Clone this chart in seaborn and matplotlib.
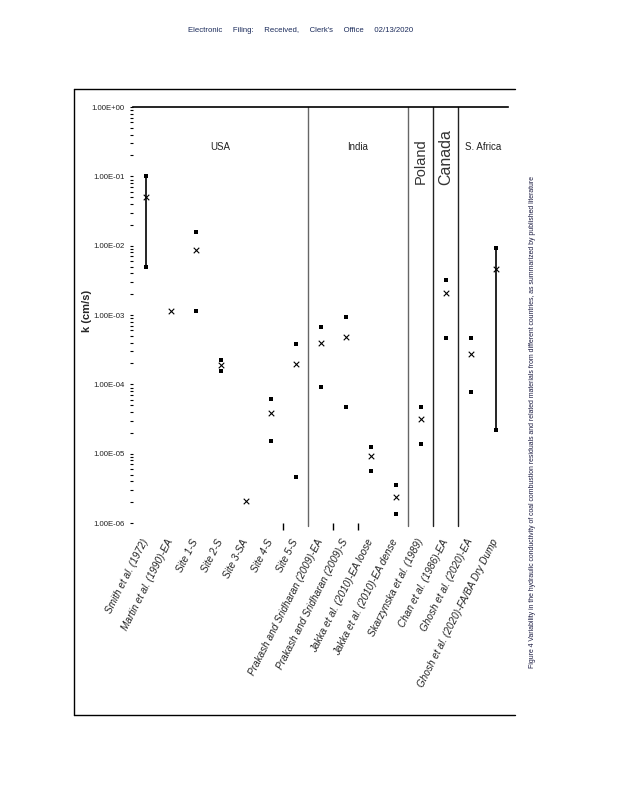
import numpy as np
import pandas as pd
import matplotlib
matplotlib.use("Agg")
import matplotlib.pyplot as plt
import seaborn as sns
from matplotlib.lines import Line2D
from matplotlib.ticker import LogLocator, FixedLocator, NullFormatter

# ---------------- data ----------------
categories = [
    "Smith et al. (1972)",
    "Martin et al. (1990)-EA",
    "Site 1-S",
    "Site 2-S",
    "Site 3-SA",
    "Site 4-S",
    "Site 5-S",
    "Prakash and Sridharan (2009)-EA",
    "Prakash and Sridharan (2009)-S",
    "Jakka et al. (2010)-EA loose",
    "Jakka et al. (2010)-EA dense",
    "Skarzynska et al. (1989)",
    "Chan et al. (1986)-EA",
    "Ghosh et al. (2020)-EA",
    "Ghosh et al. (2020)-FA/BA Dry Dump",
]
nan = np.nan
mean_k = [5.0e-2, 1.15e-3, 8.7e-3, 1.9e-4, 2.1e-6, 3.9e-5, 1.96e-4,
          3.95e-4, 4.8e-4, 9.3e-6, 2.35e-6, 3.2e-5, 2.1e-3, 2.7e-4, 4.6e-3]
max_k = [nan, nan, 1.6e-2, 2.25e-4, nan, 6.2e-5, 3.8e-4,
         6.7e-4, 9.4e-4, 1.26e-5, 3.5e-6, 4.7e-5, 3.2e-3, 4.7e-4, nan]
min_k = [nan, nan, 1.15e-3, 1.55e-4, nan, 1.5e-5, 4.6e-6,
         9.2e-5, 4.7e-5, 5.6e-6, 1.35e-6, 1.4e-5, 4.7e-4, 7.8e-5, nan]
range_hi = [1.0e-1, nan, nan, nan, nan, nan, nan,
            nan, nan, nan, nan, nan, nan, nan, 9.3e-3]
range_lo = [4.9e-3, nan, nan, nan, nan, nan, nan,
            nan, nan, nan, nan, nan, nan, nan, 2.2e-5]

regions = ["USA", "India", "Poland", "Canada", "S. Africa"]
region_sizes = [7, 4, 1, 1, 2]
region_vertical = [False, False, True, True, False]
bottom_tick_boundaries = [6, 8, 9]

ytick_values = [1e0, 1e-1, 1e-2, 1e-3, 1e-4, 1e-5, 1e-6]
ytick_labels = ["1.00E+00", "1.00E-01", "1.00E-02", "1.00E-03",
                "1.00E-04", "1.00E-05", "1.00E-06"]

header_text = "Electronic     Filing:     Received,     Clerk's     Office     02/13/2020"
caption_text = ("Figure 4 Variability in the hydraulic conductivity of coal combustion residuals "
                "and related materials from different countries, as summarized by published literature")

# ---------------- frame ----------------
sns.set_theme(style="white")
plt.rcParams["font.family"] = ["Liberation Sans", "DejaVu Sans"]

W, H = 619, 800
fig = plt.figure(figsize=(W / 100, H / 100), dpi=100)
fig.patch.set_facecolor("white")

def fx(px):
    return px / W

def fy(py):
    return 1 - py / H

ax_l, ax_r, ax_t, ax_b = 133, 508, 107, 523
ax = fig.add_axes([fx(ax_l), fy(ax_b), fx(ax_r - ax_l), (ax_b - ax_t) / H])
ax.set_facecolor("white")

n = len(categories)
pos = np.arange(n)
df = pd.DataFrame({"pos": pos, "cat": categories, "mean": mean_k,
                   "max": max_k, "min": min_k, "hi": range_hi, "lo": range_lo})

# range bars
rb = df.dropna(subset=["hi", "lo"])
ax.vlines(rb["pos"], rb["lo"], rb["hi"], color="black", lw=1.2, zorder=3)
ends = pd.concat([rb[["pos", "hi"]].rename(columns={"hi": "k"}),
                  rb[["pos", "lo"]].rename(columns={"lo": "k"})])
sns.scatterplot(data=ends, x="pos", y="k", marker="s", color="black",
                s=5, linewidth=0, ax=ax, zorder=4)

# max / min squares
mm = pd.concat([df[["pos", "max"]].rename(columns={"max": "k"}),
                df[["pos", "min"]].rename(columns={"min": "k"})]).dropna()
sns.scatterplot(data=mm, x="pos", y="k", marker="s", color="black",
                s=7, linewidth=0, ax=ax, zorder=4)

# means
sns.scatterplot(data=df, x="pos", y="mean", marker="x", color="black",
                s=16, linewidth=0.8, ax=ax, zorder=5)

ax.set_yscale("log")
ax.set_ylim(1e-6, 1e0)
ax.set_xlim(-0.5, n - 0.5)

# spines
for s in ["left", "right", "bottom"]:
    ax.spines[s].set_visible(False)
ax.spines["top"].set_visible(True)
ax.spines["top"].set_color("black")
ax.spines["top"].set_linewidth(1.2)

# y ticks
ax.yaxis.set_major_locator(FixedLocator(ytick_values))
ax.set_yticklabels(ytick_labels)
ax.yaxis.set_minor_locator(LogLocator(base=10, subs=np.arange(2, 10)))
ax.yaxis.set_minor_formatter(NullFormatter())
ax.tick_params(axis="y", which="both", left=True, length=2.5, width=0.8,
               color="black", direction="out", pad=3.5, labelsize=5.6,
               labelcolor="#222222")

# x ticks: labels at category centres, short marks at some boundaries
ax.set_xticks(pos)
ax.set_xticklabels(categories, rotation=63, ha="right", va="center",
                   rotation_mode="anchor",
                   fontsize=7.2, style="italic", color="#222222")
ax.tick_params(axis="x", which="major", bottom=False, length=0, pad=12)
ax.xaxis.set_minor_locator(FixedLocator([b - 0.5 for b in bottom_tick_boundaries]))
ax.tick_params(axis="x", which="minor", bottom=True, length=5, width=1.0,
               color="black", direction="out")
ax.set_xlabel("")
ax.set_ylabel("k (cm/s)", fontsize=8, fontweight="bold")
ax.yaxis.set_label_coords((92 - ax_l) / (ax_r - ax_l), 0.51)
ax.grid(False)

# region separators and labels
start = 0
seps = np.cumsum(region_sizes)[:-1]
sep_colors = ["#666666", "#666666", "#222222", "#222222"]
for b, c in zip(seps, sep_colors):
    ax.plot([b - 0.5, b - 0.5], [1e0, 10 ** -6.04], color=c, lw=1.0,
            clip_on=False, zorder=2)
vert_y = [None, None, -0.78, -0.72, None]
vert_size = [None, None, 10.5, 11.5, None]
for name, size, vert, vy, vs in zip(regions, region_sizes, region_vertical,
                                     vert_y, vert_size):
    cx = start + size / 2 - 0.5
    if vert:
        ax.text(cx, 10 ** vy, name, rotation=90, ha="center", va="center",
                fontsize=vs, color="#333333")
    else:
        ax.text(cx, 10 ** -0.57, name, ha="center", va="center",
                fontsize=7, color="#222222")
    start += size

# outer frame of the page figure (left, top, bottom)
fl, fr, ft, fb = 73.5, 515, 88.5, 714.5
for xs, ys in [([fl, fl], [ft, fb]), ([fl, fr], [ft, ft]), ([fl, fr], [fb, fb])]:
    fig.add_artist(Line2D([fx(x) for x in xs], [fy(y) for y in ys],
                          color="black", lw=1.0))

# header and side caption
fig.text(fx(301), fy(30), header_text, ha="center", va="center",
         fontsize=5.6, color="#1a2a5a")
fig.text(fx(533), fy(422), caption_text, rotation=90, ha="center", va="center",
         fontsize=4.95, color="#1a1a40")

fig.savefig("out.png", dpi=100, facecolor="white")
